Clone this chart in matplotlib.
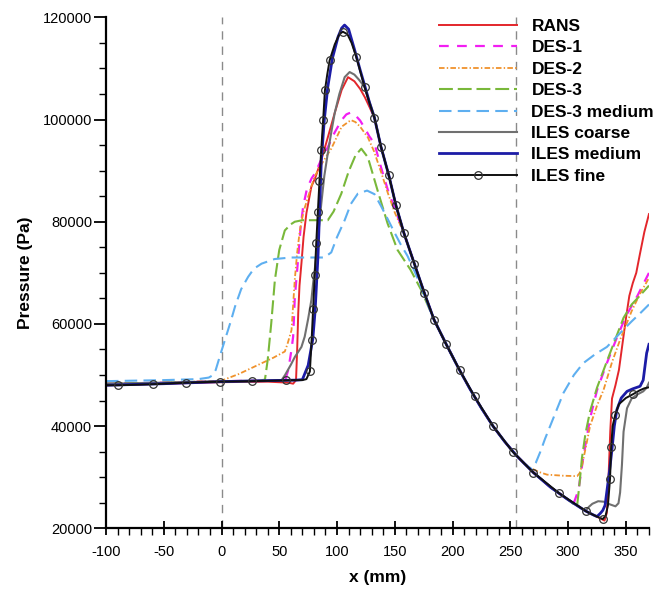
import matplotlib
matplotlib.use("Agg")
import matplotlib.pyplot as plt
from matplotlib.ticker import MultipleLocator, FormatStrFormatter

plt.rcParams['font.family'] = ['Liberation Sans', 'DejaVu Sans']
plt.rcParams['lines.scale_dashes'] = False
plt.rcParams['axes.unicode_minus'] = False

# ---------------- data (x in mm, pressure in Pa) ----------------
# common decay shared by most solutions downstream of the peak
x_common = [132.4, 138, 144.8, 151, 158, 166.9, 175.5, 184, 195, 205, 215, 225,
            235, 245, 255, 262, 270, 285, 300, 315, 322, 329]
p_common = [100300, 94700, 89100, 83200, 77700, 71800, 66100, 60800, 55800, 51400,
            47300, 43500, 40000, 37000, 34300, 32700, 30900, 28000, 25600, 23400,
            22600, 21800]

rans_up_x = [-100, -50, 0, 40, 58, 62, 64.5, 65.5, 66.4, 67.5, 69.2, 71, 73.5, 77.8,
             81, 86.4, 92, 98, 104, 109.5, 115, 120, 124, 128]
rans_up_p = [48000, 48300, 48600, 48700, 48500, 48300, 49000, 55000, 62100, 67500,
             71900, 77000, 81700, 86900, 88500, 92100, 96500, 101300, 105800, 108300,
             107500, 106000, 104400, 102500]
rans_dn_x = [331.5, 333.5, 334.5, 335.5, 336.5, 338, 341, 344, 347, 350, 353, 356,
             359, 362, 366, 370]
rans_dn_p = [21500, 23000, 27000, 33000, 39000, 45400, 48000, 51000, 56000, 61000,
             65500, 68000, 70000, 73500, 78000, 81500]

des1_up_x = [-100, -50, 0, 40, 55, 57.8, 60.6, 62, 63.4, 66.4, 68.5, 70.7, 74, 78, 81,
             86, 92, 98, 104, 108, 112, 116, 120, 124, 128, 132.4, 138, 144, 150]
des1_up_p = [48300, 48500, 48800, 48900, 48900, 51000, 55000, 57500, 65000, 73000,
             79000, 83000, 86500, 88500, 89500, 92000, 94600, 97500, 99900, 101000,
             101400, 100800, 99800, 98300, 96700, 95300, 90700, 86200, 82500]
des1_dn_x = [305, 309, 313, 319, 325, 333, 342, 350, 360, 370]
des1_dn_p = [25000, 27500, 33700, 41500, 47000, 52000, 57200, 61500, 65500, 70000]

des2_up_x = [-100, -50, 0, 15, 30, 45, 54.8, 57, 60.6, 63.4, 65.5, 67.8, 71, 75, 80.7,
             88, 95, 104, 112, 116, 120, 126.7, 132, 138, 144, 150]
des2_up_p = [48300, 48500, 48900, 50200, 51800, 53400, 54600, 56000, 58800, 68600,
             74000, 78300, 82000, 84900, 88900, 91800, 94300, 98600, 99900, 99500,
             98600, 96500, 93800, 89800, 85600, 81800]
des2_dn_x = [267.5, 275, 281.8, 295, 307.8, 310, 312, 315, 319, 325, 330.7, 338, 345,
             355, 362, 370]
des2_dn_p = [31800, 31000, 30500, 30300, 30200, 30800, 32200, 35500, 40000, 44000,
             47100, 52500, 56900, 62500, 65800, 69000]

des3_up_x = [-100, -50, 0, 30, 37.6, 40, 43, 46.2, 50, 54.8, 60, 63.4, 70, 80, 86, 92,
             97, 103.7, 110, 116, 121, 126.7, 135, 143.7, 152.3, 163.6, 172.7]
des3_up_p = [48300, 48500, 48700, 48800, 49100, 53000, 60000, 68600, 74500, 78300,
             79500, 80000, 80300, 80300, 80300, 80300, 82000, 85500, 89800, 93000,
             94300, 92600, 86200, 79700, 74500, 70600, 66700]
des3_dn_x = [305, 307.8, 310, 312, 315, 319, 325, 333.6, 340, 348, 355, 362, 370]
des3_dn_p = [24700, 24400, 29000, 33800, 38500, 42900, 47500, 52700, 56500, 61200,
             63800, 65500, 67500]

des3m_up_x = [-100, -50, -20, -11, -8, -5, -1, 3, 8, 11.7, 17, 23, 28, 34.7, 46, 60,
              75, 89, 95, 100, 106.6, 112, 118, 126, 132.4, 138, 143.7, 149.7, 155,
              161, 166.9, 172.7]
des3m_up_p = [48800, 49000, 49200, 49500, 49900, 51000, 54000, 56900, 60500, 63400,
              66800, 69200, 70800, 71800, 72700, 73000, 73000, 73000, 74000, 77000,
              80300, 83500, 85500, 86100, 85400, 83100, 80600, 77900, 75600, 73300,
              70400, 67300]
des3m_dn_x = [268, 272, 276, 280, 288, 296, 305, 313, 323, 333.6, 345, 355, 362, 370]
des3m_dn_p = [31600, 32800, 35000, 37500, 42000, 46500, 50000, 52300, 54000, 55500,
              58200, 60500, 62000, 63800]

ilesc_up_x = [-100, -50, 0, 40, 52, 55, 60, 63.4, 69.2, 72, 75, 77.8, 79.3, 80.7, 83.5,
              86.4, 89, 92, 95, 98, 102, 106.6, 110.9, 115, 119, 123.8, 128, 132.4]
ilesc_up_p = [48300, 48500, 48800, 48900, 49000, 50000, 52000, 53500, 55500, 57500,
              61000, 64700, 68000, 70600, 77000, 83600, 89000, 93400, 97500, 101300,
              105000, 108300, 109300, 108800, 107800, 106400, 103500, 100600]
ilesc_dn_x = [318, 321, 326, 331, 336, 341, 343.6, 345, 346.6, 348, 351, 355, 360, 365,
              368, 370]
ilesc_dn_p = [24200, 24800, 25300, 25200, 24700, 24300, 24900, 27000, 32400, 38900,
              43500, 45400, 46200, 46800, 47500, 48500]

ilesm_up_x = [-100, -50, 0, 40, 65, 70, 75, 79, 81, 83.6, 85, 86.4, 89, 92, 96, 100.9,
              104, 106.5, 110, 115, 120, 124, 128]
ilesm_up_p = [48000, 48300, 48700, 48900, 49000, 49100, 51900, 57000, 62500, 73700,
              83000, 92000, 100000, 106400, 112000, 116200, 117900, 118500, 117700,
              113800, 109700, 106600, 103400]
ilesm_dn_x = [325, 327.8, 330, 332, 334, 336, 338, 340, 342.2, 346, 351, 356, 362.3,
              365, 368, 370]
ilesm_dn_p = [22300, 22900, 23500, 24500, 28000, 31500, 35500, 40000, 43200, 45500,
              46800, 47300, 47800, 49000, 54300, 56000]

# ILES fine: full profile (the circles sit on some of these samples)
ilesf_x = [-100, -89.6, -59.4, -30.8, -1.4, 26.6, 55.7, 65, 70, 73.5, 76.5, 78, 79.3,
           80.7, 82, 83.4, 84.8, 86.3, 88, 89.5, 91.5, 93.6, 98, 102, 105, 109, 112.6,
           116.6, 120, 123.8, 128, 132.4, 138, 144.8, 151, 158, 166.9, 175.5, 184,
           194.5, 206, 219, 235, 252, 270, 292, 315.8, 322, 330, 332.5, 334.5, 336.3,
           337.3, 338.5, 340.8, 344, 350, 356.6, 362, 366, 370]
ilesf_p = [48000, 48000, 48200, 48500, 48700, 48800, 48950, 49000, 49000, 49200, 50700,
           56900, 63000, 69500, 75800, 82000, 88000, 94000, 100000, 105700, 108800,
           111600, 114700, 116700, 117200, 116700, 115000, 112300, 109500, 106400,
           103300, 100300, 94700, 89100, 83200, 77700, 71800, 66100, 60800, 56000,
           51000, 45800, 40000, 35000, 30900, 26900, 23300, 22600, 21800, 22500, 24500,
           29700, 35900, 40000, 42200, 44300, 45500, 46300, 47000, 47400, 47600]
ilesf_marker_x = [-89.6, -59.4, -30.8, -1.4, 26.6, 55.7, 76.5, 78, 79.3, 80.7, 82, 83.4,
                  84.8, 86.3, 88, 89.5, 93.6, 105, 116.6, 123.8, 132.4, 138, 144.8, 151,
                  158, 166.9, 175.5, 184, 194.5, 206, 219, 235, 252, 270, 292, 315.8,
                  330, 336.3, 337.3, 340.8, 356.6]

labels = ['RANS', 'DES-1', 'DES-2', 'DES-3', 'DES-3 medium', 'ILES coarse',
          'ILES medium', 'ILES fine']
x_ticks = [-100, -50, 0, 50, 100, 150, 200, 250, 300, 350]
y_ticks = [20000, 40000, 60000, 80000, 100000, 120000]
ref_lines_x = [0, 255]


def build(ux, up, lo, hi, dx, dp):
    cx = [x for x in x_common if lo <= x <= hi]
    cp = [p for x, p in zip(x_common, p_common) if lo <= x <= hi]
    return ux + cx + dx, up + cp + dp


series = [
    build(rans_up_x, rans_up_p, 132, 329.5, rans_dn_x, rans_dn_p),
    build(des1_up_x, des1_up_p, 157, 300.5, des1_dn_x, des1_dn_p),
    build(des2_up_x, des2_up_p, 157, 262.5, des2_dn_x, des2_dn_p),
    build(des3_up_x, des3_up_p, 183, 300.5, des3_dn_x, des3_dn_p),
    build(des3m_up_x, des3m_up_p, 183, 262.5, des3m_dn_x, des3m_dn_p),
    build(ilesc_up_x, ilesc_up_p, 137, 315.5, ilesc_dn_x, ilesc_dn_p),
    build(ilesm_up_x, ilesm_up_p, 132, 322.5, ilesm_dn_x, ilesm_dn_p),
    (ilesf_x, ilesf_p),
]

fine_marks = [i for i, x in enumerate(ilesf_x) if x in ilesf_marker_x]

styles = [
    dict(color='#e3262b', lw=1.4, ls='-'),
    dict(color='#f21ef2', lw=1.6, ls=(0, (7, 6))),
    dict(color='#f0922c', lw=1.3, ls=(0, (4, 1.6, 1, 1.6))),
    dict(color='#79b83a', lw=1.5, ls=(0, (10, 3.5))),
    dict(color='#5eaff0', lw=1.5, ls=(0, (9, 4.5))),
    dict(color='#707070', lw=1.5, ls='-'),
    dict(color='#1c1ca6', lw=2.0, ls='-'),
    dict(color='#101010', lw=1.4, ls='-', marker='o', markersize=5.5,
         markerfacecolor='none', markeredgecolor='#333333', markeredgewidth=0.9,
         markevery=fine_marks),
]

fig = plt.figure(figsize=(6.55, 5.91), dpi=100)
ax = fig.add_axes([0.1618, 0.1061, 0.8290, 0.8645])

for xv in ref_lines_x:
    ax.axvline(xv, color='#8a8a8a', lw=1.0, ls=(0, (6, 5)), zorder=1)

for (xs, ps), st, lab in zip(series, styles, labels):
    ax.plot(xs, ps, label=lab, zorder=2, **st)

ax.set_xlim(-100, 370)
ax.set_ylim(20000, 120000)
ax.set_xticks(x_ticks)
ax.set_yticks(y_ticks)
ax.xaxis.set_minor_locator(MultipleLocator(10))
ax.yaxis.set_minor_locator(MultipleLocator(5000))
ax.yaxis.set_major_formatter(FormatStrFormatter('%d'))

for s in ['top', 'right']:
    ax.spines[s].set_visible(False)
for s in ['left', 'bottom']:
    ax.spines[s].set_linewidth(1.6)

ax.tick_params(axis='x', which='major', direction='inout', length=10, width=1.3,
               labelsize=10.5, pad=7)
ax.tick_params(axis='x', which='minor', direction='out', length=5, width=1.0)
ax.tick_params(axis='y', which='major', direction='out', length=9, width=1.3,
               labelsize=10.5, pad=1)
ax.tick_params(axis='y', which='minor', direction='out', length=5, width=1.0)

ax.set_xlabel('x (mm)', fontsize=12.5, fontweight='bold', labelpad=8)
ax.set_ylabel('Pressure (Pa)', fontsize=12.5, fontweight='bold', labelpad=7)

leg = fig.legend(loc='upper left', bbox_to_anchor=(0.6695, 0.968), frameon=False,
                 prop={'weight': 'bold', 'size': 12.5}, handlelength=4.5,
                 handletextpad=0.85, labelspacing=0.36, borderpad=0,
                 borderaxespad=0)

fig.savefig('out.png', dpi=100)
